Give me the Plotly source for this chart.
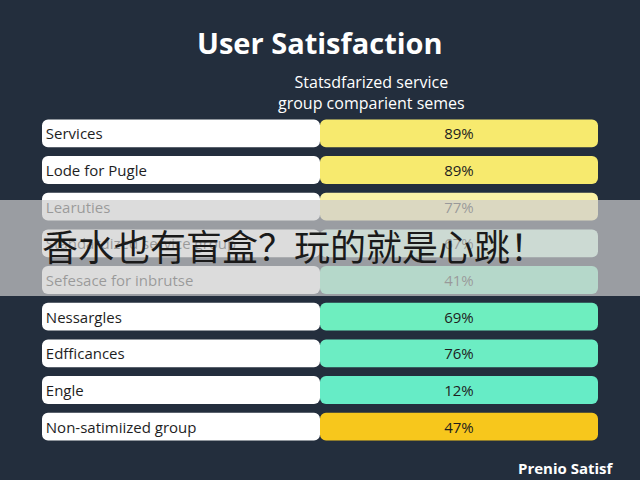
import plotly.graph_objects as go

categories = ["Services", "Lode for Pugle", "Learuties", "Standardized service group",
              "Sefesace for inbrutse", "Nessargles", "Edfficances", "Engle", "Non-satimiized group"]
values = [89, 89, 77, 67, 41, 69, 76, 12, 47]
value_labels = [f"{v}%" for v in values]
colors = ["#f7ea6e", "#f7ea6e", "#fbf2a6", "#c8f7e2", "#7ef0c2", "#6eeebf", "#6cedc3", "#66ecc6", "#f7c71c"]

bg = "#232e3d"
fig = go.Figure()
fig.add_bar(y=categories, x=[1]*len(categories), base=0, orientation="h",
            marker=dict(color="white", line=dict(width=0)), width=0.76,
            text=categories, textposition="inside", insidetextanchor="start",
            textfont=dict(size=15, color="#1e1e1e", family="Open Sans"), hoverinfo="skip")
fig.add_bar(y=categories, x=[1]*len(categories), base=1, orientation="h",
            marker=dict(color=colors, line=dict(width=0)), width=0.76,
            text=value_labels, textposition="inside", insidetextanchor="middle",
            textfont=dict(size=15, color="#1e1e1e", family="Open Sans"), hoverinfo="skip")

fig.update_layout(
    width=640, height=480, margin=dict(l=0, r=0, t=0, b=0),
    paper_bgcolor=bg, plot_bgcolor=bg, barmode="overlay", showlegend=False,
    barcornerradius=6,
    xaxis=dict(domain=[42/640, 598/640], range=[0, 2], visible=False, fixedrange=True),
    yaxis=dict(domain=[1-445/480, 1-115/480], autorange="reversed", visible=False),
    uniformtext=dict(mode="show", minsize=10),
    shapes=[dict(type="rect", xref="paper", yref="paper", x0=0, x1=1,
                 y0=1-296/480, y1=1-200/480, fillcolor="rgba(205,205,205,0.7)",
                 line=dict(width=0), layer="above")],
    annotations=[
        dict(text="<b>User Satisfaction</b>", x=0.5, y=1-42/480, xref="paper", yref="paper",
             showarrow=False, yanchor="middle",
             font=dict(size=29, color="white", family="Open Sans")),
        dict(text="Statsdfarized service<br>group comparient semes", x=467/640, y=1-92/480,
             xref="paper", yref="paper", showarrow=False, yanchor="middle",
             font=dict(size=16, color="white", family="Open Sans")),
        dict(text="香水也有盲盒？玩的就是心跳！", x=40/640, y=1-245/480, xref="paper", yref="paper",
             xanchor="left", yanchor="middle", showarrow=False,
             font=dict(size=36, color="#1a1a1a", family="Noto Sans CJK SC")),
        dict(text="<b>Prenio Satisf</b>", x=516/640, y=1-468/480, xref="paper", yref="paper",
             xanchor="left", yanchor="middle", showarrow=False,
             font=dict(size=15, color="white", family="Open Sans")),
    ],
)
fig.write_html("out.html", config={"displayModeBar": False},
               post_script="document.body.style.margin='0';document.body.style.overflow='hidden';")
